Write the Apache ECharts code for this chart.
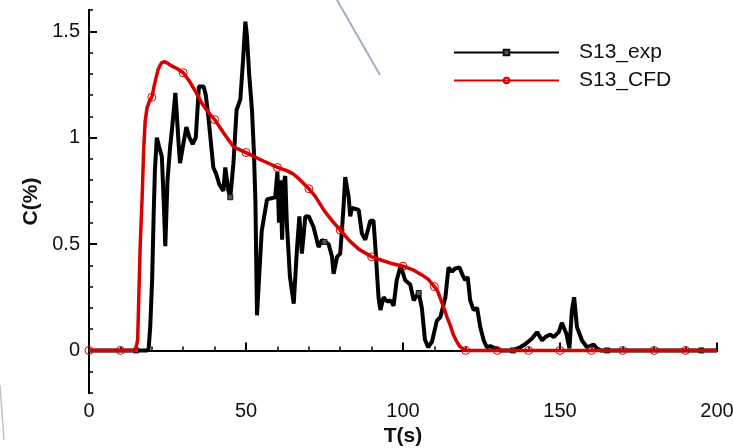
<!DOCTYPE html>
<html>
<head>
<meta charset="utf-8">
<script src="https://cdn.jsdelivr.net/npm/echarts@6/dist/echarts.min.js"></script>
<style>
  html, body { margin: 0; padding: 0; background: #fff; }
  #chart { width: 733px; height: 448px; }
</style>
</head>
<body>
<div id="chart"></div>
<script>
// Measured concentration (exp) – time [s] and concentration [%]
const expT = [0, 15, 18.5, 19, 19.5, 20.1, 20.6, 21, 21.6, 22.3, 23.2, 23.8, 24.3, 25, 25.8, 26.5, 27.5, 28, 28.5, 29, 29.8, 31, 32, 33, 34, 35, 36.5, 37.2, 38, 39, 39.6, 40.5, 41.5, 42.8, 43.4, 44.4, 45, 46, 47, 48.2, 49, 49.8, 50.3, 51, 51.9, 52.5, 53, 53.5, 54.2, 55, 56.7, 59.3, 60, 60.5, 61, 61.5, 62, 62.5, 63, 64, 65.2, 66.2, 67, 67.8, 68.9, 70, 71.5, 73.1, 74.2, 75, 76.3, 77.4, 77.9, 79, 80, 81, 81.6, 82.7, 83.2, 83.8, 85.9, 86.9, 88, 89.6, 90.6, 91.2, 92.2, 92.8, 93.8, 95, 96, 97, 98, 99.1, 99.7, 100.7, 102.3, 103.4, 104, 105, 106, 106.6, 107, 108, 109.2, 110.8, 111.9, 113, 113.5, 114.5, 115.6, 116.6, 118, 118.8, 119.8, 120.6, 121.4, 122.5, 123.6, 124.6, 125.7, 126.7, 127.8, 129.4, 131, 135, 137.3, 139, 141, 142.7, 144.3, 145.3, 146.9, 148, 149.6, 150.6, 151.2, 152, 153, 153.8, 154.5, 155.4, 157, 158.6, 160.7, 161.7, 163, 165, 195, 200];
const expC = [0, 0, 0, 0.01, 0.11, 0.33, 0.64, 0.85, 1.0, 0.96, 0.91, 0.7, 0.49, 0.8, 0.95, 1.05, 1.21, 1.1, 0.98, 0.88, 0.95, 1.05, 1.0, 0.97, 1.0, 1.24, 1.24, 1.2, 1.1, 0.95, 0.86, 0.83, 0.78, 0.75, 0.86, 0.75, 0.72, 0.88, 1.13, 1.18, 1.35, 1.545, 1.48, 1.3, 1.13, 0.94, 0.7, 0.165, 0.35, 0.56, 0.71, 0.72, 0.84, 0.6, 0.8, 0.52, 0.78, 0.82, 0.6, 0.345, 0.22, 0.47, 0.63, 0.455, 0.63, 0.63, 0.58, 0.486, 0.52, 0.51, 0.5, 0.44, 0.36, 0.44, 0.455, 0.66, 0.815, 0.72, 0.63, 0.67, 0.66, 0.55, 0.52, 0.61, 0.61, 0.486, 0.25, 0.19, 0.25, 0.23, 0.235, 0.21, 0.33, 0.39, 0.377, 0.33, 0.31, 0.235, 0.25, 0.27, 0.2, 0.11, 0.05, 0.015, 0.04, 0.14, 0.157, 0.22, 0.25, 0.39, 0.37, 0.385, 0.39, 0.36, 0.33, 0.345, 0.235, 0.19, 0.2, 0.11, 0.047, 0.015, 0.02, 0.01, 0, 0, 0.015, 0.03, 0.055, 0.086, 0.047, 0.063, 0.075, 0.063, 0.086, 0.13, 0.133, 0.08, 0.01, 0.19, 0.25, 0.11, 0.047, 0.015, 0.028, 0.01, 0, 0, 0, 0];

// Simulated concentration (CFD)
const cfdT = [0, 10, 14, 14.8, 15.5, 16.3, 16.9, 17.4, 17.9, 18.5, 19.2, 20, 21, 22, 23, 24, 25, 26, 28, 30, 32, 34, 36, 38, 40, 43, 46, 50, 55, 60, 63, 65, 67, 70, 72, 75, 78, 80, 83, 86, 90, 93, 96, 100, 103, 106, 108, 110, 111, 112, 113, 114, 115, 116, 117, 118, 119, 120, 130, 140, 150, 160, 170, 180, 190, 200];
const cfdC = [0, 0, 0, 0, 0.05, 0.49, 0.71, 0.94, 1.08, 1.14, 1.17, 1.19, 1.26, 1.32, 1.35, 1.357, 1.35, 1.34, 1.325, 1.305, 1.265, 1.215, 1.16, 1.12, 1.085, 1.02, 0.957, 0.93, 0.894, 0.86, 0.845, 0.83, 0.805, 0.76, 0.725, 0.655, 0.6, 0.566, 0.515, 0.475, 0.44, 0.425, 0.41, 0.396, 0.38, 0.355, 0.335, 0.3, 0.28, 0.24, 0.2, 0.157, 0.12, 0.075, 0.045, 0.02, 0.008, 0, 0, 0, 0, 0, 0, 0, 0, 0];

// Axis tick labels
const xTicks = [0, 50, 100, 150, 200];
const yTicks = [0, 0.5, 1, 1.5];

const FONT = 'Liberation Sans, Arial, sans-serif';

// Markers: squares every 30 s on the measurement, circles every 10 s on the simulation
const expData = expT.map((t, i) => {
  const item = { value: [t, expC[i]] };
  if (t % 30 !== 15) item.symbol = 'none';
  return item;
});
const cfdData = cfdT.map((t, i) => {
  const item = { value: [t, cfdC[i]] };
  if (t % 10 !== 0 || t >= 200) item.symbol = 'none';
  return item;
});

const chart = echarts.init(document.getElementById('chart'), null, { renderer: 'canvas' });

const labelStyle = { color: '#111', fontFamily: FONT, fontSize: 20 };
const black = '#000';
const red = '#d80000';

chart.setOption({
  animation: false,
  backgroundColor: '#fff',
  grid: { left: 89, right: 16, top: 10, bottom: 55, containLabel: false, outerBoundsMode: 'none' },
  legend: {
    orient: 'vertical',
    left: 453,
    top: 42,
    padding: 0,
    itemWidth: 105,
    itemHeight: 7,
    itemGap: 7,
    textStyle: { color: '#111', fontFamily: FONT, fontSize: 21, lineHeight: 21, padding: [0, 0, 0, 15] },
    data: ['S13_exp', 'S13_CFD']
  },
  xAxis: [
    {
      type: 'value',
      min: xTicks[0],
      max: xTicks[xTicks.length - 1],
      interval: 50,
      name: 'T(s)',
      nameLocation: 'middle',
      nameGap: 25,
      nameTextStyle: { color: '#111', fontFamily: FONT, fontSize: 21, fontWeight: 'bold' },
      axisLine: { show: true, lineStyle: { color: black, width: 2 } },
      axisTick: { show: true, inside: true, length: 8, lineStyle: { color: black, width: 2 } },
      axisLabel: Object.assign({ margin: 8 }, labelStyle),
      splitLine: { show: false }
    },
    {
      // minor ticks every 10 s
      type: 'value',
      position: 'bottom',
      min: 0,
      max: 200,
      interval: 10,
      axisLine: { show: true, lineStyle: { color: black, width: 2 } },
      axisTick: { show: true, inside: true, length: 4, lineStyle: { color: black, width: 1.5 } },
      axisLabel: { show: false },
      splitLine: { show: false }
    }
  ],
  yAxis: [
    {
      type: 'value',
      min: -0.2,
      max: 1.6,
      name: 'C(%)',
      nameLocation: 'middle',
      nameGap: 46,
      nameTextStyle: { color: '#111', fontFamily: FONT, fontSize: 21, fontWeight: 'bold' },
      axisLine: { show: true, lineStyle: { color: black, width: 2 } },
      axisTick: { show: true, inside: true, length: 8, customValues: yTicks, lineStyle: { color: black, width: 2 } },
      axisLabel: Object.assign({ margin: 9, customValues: yTicks }, labelStyle),
      splitLine: { show: false }
    },
    {
      // minor ticks every 0.1
      type: 'value',
      position: 'left',
      min: -0.2,
      max: 1.6,
      interval: 0.1,
      axisLine: { show: true, lineStyle: { color: black, width: 2 } },
      axisTick: { show: true, inside: true, length: 4, lineStyle: { color: black, width: 1.5 } },
      axisLabel: { show: false },
      splitLine: { show: false }
    }
  ],
  series: [
    {
      name: 'S13_exp',
      type: 'line',
      data: expData,
      symbol: 'rect',
      symbolSize: 5,
      showAllSymbol: true,
      itemStyle: { color: '#555', borderColor: '#111', borderWidth: 1 },
      lineStyle: { color: black, width: 4 },
      z: 2
    },
    {
      name: 'S13_CFD',
      type: 'line',
      data: cfdData,
      symbol: 'circle',
      symbolSize: 8,
      showAllSymbol: true,
      itemStyle: { color: 'rgba(255,255,255,0)', borderColor: red, borderWidth: 1 },
      lineStyle: { color: red, width: 3.5 },
      z: 3
    }
  ],
  graphic: [
    { type: 'line', shape: { x1: 337, y1: 0, x2: 380, y2: 75 }, style: { stroke: '#9fb0c3', lineWidth: 2 }, z: 0 },
    { type: 'line', shape: { x1: 0, y1: 385, x2: 4, y2: 440 }, style: { stroke: '#b8c4d0', lineWidth: 1.5 }, z: 0 }
  ]
});
</script>
</body>
</html>
